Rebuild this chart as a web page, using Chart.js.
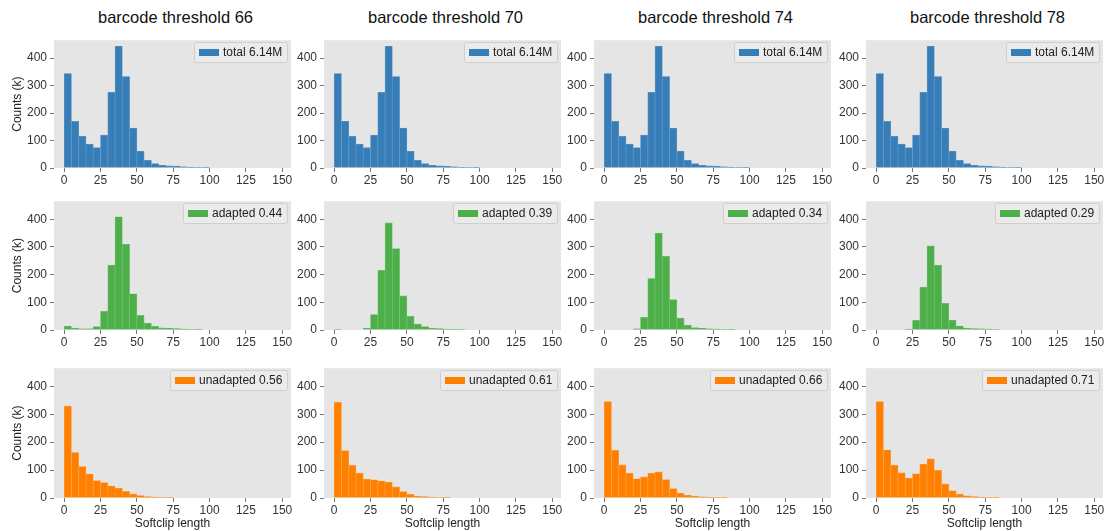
<!DOCTYPE html>
<html lang="en">
<head>
<meta charset="UTF-8">
<title>Softclip length by barcode threshold</title>
<script src="https://cdn.jsdelivr.net/npm/chart.js"></script>
<style>
  body { margin: 0; background: #fff; width: 1105px; height: 531px; position: relative; overflow: hidden;
         font-family: 'Liberation Sans', Arial, sans-serif; }
  canvas { position: absolute; }
  .titulo { position: absolute; top: 8px; width: 260px; text-align: center; font-size: 16.5px; color: #111; white-space: nowrap; }
</style>
</head>
<body>
<script>
// bins de 5 en 5 (inicio de cada bin)
const binStart = [0, 5, 10, 15, 20, 25, 30, 35, 40, 45, 50, 55, 60, 65, 70, 75, 80, 85, 90, 95,
                  100, 105, 110, 115, 120, 125, 130, 135, 140, 145];
const thresholds = [66, 70, 74, 78];

// conteos en miles
const totalCounts = [344, 170, 115, 87, 74, 120, 275, 443, 333, 145, 61, 28, 16, 10, 8, 6, 4, 2.5, 1.5, 1,
                     0, 0, 0, 0, 0, 0, 0, 0, 0, 0];

const adapted66 = [14, 7, 4, 4, 12, 67, 234, 409, 309, 131, 53, 25, 13, 8, 6, 5, 3, 2, 1, 0,
                   0, 0, 0, 0, 0, 0, 0, 0, 0, 0];
const adapted70 = [2, 0, 0, 0, 7, 56, 215, 387, 294, 123, 49, 21, 12, 7, 5, 3.5, 2.5, 1.5, 0, 0,
                   0, 0, 0, 0, 0, 0, 0, 0, 0, 0];
const adapted74 = [0, 0, 0, 0, 4, 46, 186, 350, 266, 110, 43, 18, 9, 6, 4, 3, 2, 1, 0, 0,
                   0, 0, 0, 0, 0, 0, 0, 0, 0, 0];
const adapted78 = [0, 0, 0, 0, 3, 35, 155, 304, 234, 96, 36, 14, 7, 5, 4, 3, 2, 0, 0, 0,
                   0, 0, 0, 0, 0, 0, 0, 0, 0, 0];

const unadapted66 = [329, 163, 113, 86, 62, 55, 43, 35, 24, 15, 9, 5, 3, 2, 1, 0, 0, 0, 0, 0,
                     0, 0, 0, 0, 0, 0, 0, 0, 0, 0];
const unadapted70 = [343, 170, 117, 89, 68, 65, 61, 57, 40, 23, 13, 7, 5, 3, 2, 1, 0, 0, 0, 0,
                     0, 0, 0, 0, 0, 0, 0, 0, 0, 0];
const unadapted74 = [345, 171, 119, 89, 69, 76, 89, 94, 66, 34, 17, 10, 6, 4, 2.5, 1.5, 1, 0, 0, 0,
                     0, 0, 0, 0, 0, 0, 0, 0, 0, 0];
const unadapted78 = [345, 172, 118, 90, 71, 87, 121, 140, 99, 51, 26, 14, 8, 5, 3, 2, 1, 0, 0, 0,
                     0, 0, 0, 0, 0, 0, 0, 0, 0, 0];

const totalLabel = 'total 6.14M';
const adaptedFrac = ['0.44', '0.39', '0.34', '0.29'];
const unadaptedFrac = ['0.56', '0.61', '0.66', '0.71'];

const xTicks = [0, 25, 50, 75, 100, 125, 150];
const yTicks = [0, 100, 200, 300, 400];

// geometria de los paneles
const plotLeft = [54, 324, 594, 866];
const plotW = 237;
const plotTop = [36, 197, 364];
const plotH = [132, 133, 134];
const AXIS_W = 54, PAD_T = 6, PAD_R = 6;
const FUENTE = "'Liberation Sans', Arial, sans-serif";

Chart.defaults.font.family = FUENTE;
Chart.defaults.font.size = 12;
Chart.defaults.color = '#333';

// fondo gris del panel
const fondoPanel = {
  id: 'fondoPanel',
  beforeDraw(chart) {
    const { ctx, chartArea: a } = chart;
    ctx.save();
    ctx.fillStyle = '#e5e5e5';
    ctx.fillRect(a.left, a.top, a.right - a.left, a.bottom - a.top);
    ctx.restore();
  }
};

// leyenda arriba a la derecha, con caja
const leyenda = {
  id: 'leyenda',
  afterDatasetsDraw(chart) {
    const { ctx, chartArea: a } = chart;
    const ds = chart.data.datasets[0];
    ctx.save();
    ctx.font = '12px ' + FUENTE;
    const tw = ctx.measureText(ds.label).width;
    const w = 5 + 20 + 4 + tw + 5, h = 20;
    const x = Math.round(a.right - 4 - w), y = Math.round(a.top + 2);
    ctx.fillStyle = '#ebebeb';
    ctx.strokeStyle = '#cfcfcf';
    ctx.lineWidth = 1;
    ctx.beginPath();
    ctx.roundRect(x + 0.5, y + 0.5, Math.round(w), h, 2);
    ctx.fill();
    ctx.stroke();
    ctx.fillStyle = ds.backgroundColor;
    ctx.fillRect(x + 5, y + 7, 20, 7);
    ctx.fillStyle = '#222';
    ctx.textBaseline = 'middle';
    ctx.textAlign = 'left';
    ctx.fillText(ds.label, x + 29, y + 10.5);
    ctx.restore();
  }
};

function crearPanel(row, col, label, values, color, edge) {
  const xH = row === 2 ? 33 : 20;
  const cv = document.createElement('canvas');
  cv.width = AXIS_W + plotW + PAD_R;
  cv.height = PAD_T + plotH[row] + xH;
  cv.style.left = (plotLeft[col] - AXIS_W) + 'px';
  cv.style.top = (plotTop[row] - PAD_T) + 'px';
  document.body.appendChild(cv);

  const tickGrid = { display: true, drawOnChartArea: false, drawTicks: true, tickLength: 4, color: '#777', offset: false };

  new Chart(cv.getContext('2d'), {
    type: 'bar',
    data: {
      datasets: [{
        label: label,
        data: binStart.map((b, i) => ({ x: b + 2.5, y: values[i] })),
        backgroundColor: color,
        borderColor: edge,
        borderWidth: 0.7,
        barPercentage: 1,
        categoryPercentage: 1
      }]
    },
    options: {
      responsive: false,
      animation: false,
      layout: { padding: { top: PAD_T, right: PAD_R, left: 0, bottom: 0 } },
      plugins: {
        legend: { display: false },
        tooltip: { enabled: false }
      },
      scales: {
        x: {
          type: 'linear',
          min: -7, max: 156,
          offset: false,
          grid: tickGrid,
          border: { display: false },
          ticks: { padding: 1, maxRotation: 0 },
          afterBuildTicks: (s) => { s.ticks = xTicks.map(v => ({ value: v })); },
          afterFit: (s) => { s.height = xH; },
          title: { display: row === 2, text: 'Softclip length', font: { size: 12 }, color: '#222', padding: { top: 0, bottom: 0 } }
        },
        y: {
          min: 0, max: 465,
          grid: tickGrid,
          border: { display: false },
          ticks: { padding: 3 },
          afterBuildTicks: (s) => { s.ticks = yTicks.map(v => ({ value: v })); },
          afterFit: (s) => { s.width = AXIS_W; },
          title: { display: col === 0, text: 'Counts (k)', font: { size: 12 }, color: '#222', padding: { top: 10, bottom: 0 } }
        }
      }
    },
    plugins: [fondoPanel, leyenda]
  });
}

const adaptedSeries = [adapted66, adapted70, adapted74, adapted78];
const unadaptedSeries = [unadapted66, unadapted70, unadapted74, unadapted78];

thresholds.forEach((t, c) => {
  const d = document.createElement('div');
  d.className = 'titulo';
  d.textContent = 'barcode threshold ' + t;
  d.style.left = (plotLeft[c] + plotW / 2 + 3 - 130) + 'px';
  document.body.appendChild(d);

  crearPanel(0, c, totalLabel, totalCounts, '#377eb8', '#5e97c8');
  crearPanel(1, c, 'adapted ' + adaptedFrac[c], adaptedSeries[c], '#4daf4a', '#74c271');
  crearPanel(2, c, 'unadapted ' + unadaptedFrac[c], unadaptedSeries[c], '#ff7f00', '#ffa040');
});
</script>
</body>
</html>
